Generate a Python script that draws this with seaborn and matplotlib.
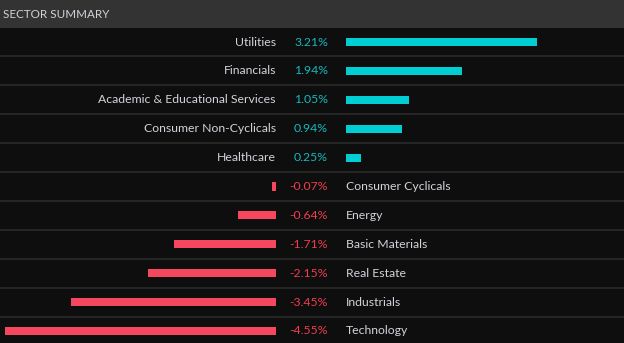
import matplotlib
matplotlib.use("Agg")
import matplotlib.pyplot as plt
import matplotlib.transforms as mtransforms
import seaborn as sns
import pandas as pd

sectors = ["Utilities", "Financials", "Academic & Educational Services",
           "Consumer Non-Cyclicals", "Healthcare", "Consumer Cyclicals",
           "Energy", "Basic Materials", "Real Estate", "Industrials", "Technology"]
changes = [3.21, 1.94, 1.05, 0.94, 0.25, -0.07, -0.64, -1.71, -2.15, -3.45, -4.55]
title = "SECTOR SUMMARY"

df = pd.DataFrame({"sector": sectors, "change": changes})
df["pos"] = df["change"].clip(lower=0)
df["neg"] = df["change"].clip(upper=0)

W, H = 624, 343
BG = "#0e0e0e"
HEADER = "#333333"
LINE = "#2a2a2a"
CYAN = "#00ced3"
RED = "#f5475d"
CYAN_TXT = "#17b8bd"
RED_TXT = "#ee3d4f"
LABEL = "#d0d4da"
FONT = ["Lato", "DejaVu Sans"]
FS = 8.8

sns.set_theme(style="dark")
plt.rcParams["font.family"] = FONT

fig = plt.figure(figsize=(W / 100, H / 100), dpi=100)
fig.patch.set_facecolor(BG)

pitch = 28.9
top_px = 28
first_center = 42
ylo = -(first_center - top_px) / pitch
yhi = ylo + (H - top_px) / pitch
scale = 59.55  # px per percent

zero_neg = 276
zero_pos = 346

def fx(px):
    return px / W

ax_h = (H - top_px) / H
ax_bg = fig.add_axes([0, 0, 1, ax_h])
ax_neg = fig.add_axes([0, 0, fx(zero_neg), ax_h])
ax_pos = fig.add_axes([fx(zero_pos), 0, fx(W - zero_pos), ax_h])

ax_bg.set_facecolor(BG)
ax_bg.set_xlim(0, 1)
ax_bg.set_ylim(yhi, ylo)
for i in range(len(sectors) - 1):
    ax_bg.axhline(i + 0.5, color=LINE, lw=1.2)
for s in ax_bg.spines.values():
    s.set_visible(False)
ax_bg.set_xticks([]); ax_bg.set_yticks([])

sns.barplot(data=df, x="pos", y="sector", ax=ax_pos, color=CYAN,
            width=0.28, saturation=1, orient="h", linewidth=0)
sns.barplot(data=df, x="neg", y="sector", ax=ax_neg, color=RED,
            width=0.28, saturation=1, orient="h", linewidth=0)

ax_pos.set_xlim(0, (W - zero_pos) / scale)
ax_neg.set_xlim(-zero_neg / scale, 0)
for ax in (ax_pos, ax_neg):
    ax.set_ylim(yhi, ylo)
    ax.set_facecolor("none")
    ax.set_xlabel(""); ax.set_ylabel("")
    ax.set_xticks([]); ax.set_yticks([])
    for s in ax.spines.values():
        s.set_visible(False)

trans = mtransforms.blended_transform_factory(fig.transFigure, ax_bg.transData)
for i, (name, v) in enumerate(zip(sectors, changes)):
    if v >= 0:
        ax_bg.text(fx(zero_neg), i, name, transform=trans, ha="right", va="center",
                   color=LABEL, fontsize=FS)
        ax_bg.text(fx(328), i, f"{v:.2f}%", transform=trans, ha="right", va="center",
                   color=CYAN_TXT, fontsize=FS)
    else:
        ax_bg.text(fx(zero_pos), i, name, transform=trans, ha="left", va="center",
                   color=LABEL, fontsize=FS)
        ax_bg.text(fx(328), i, f"{v:.2f}%", transform=trans, ha="right", va="center",
                   color=RED_TXT, fontsize=FS)

# header
fig.patches.append(plt.Rectangle((0, ax_h), 1, 1 - ax_h, transform=fig.transFigure,
                                 facecolor=HEADER, edgecolor="none", zorder=0))
fig.text(fx(3), 1 - 14 / H, title, ha="left", va="center", color="#cfd3d8",
         fontsize=8.4)

fig.savefig("out.png", dpi=100, facecolor=BG)
